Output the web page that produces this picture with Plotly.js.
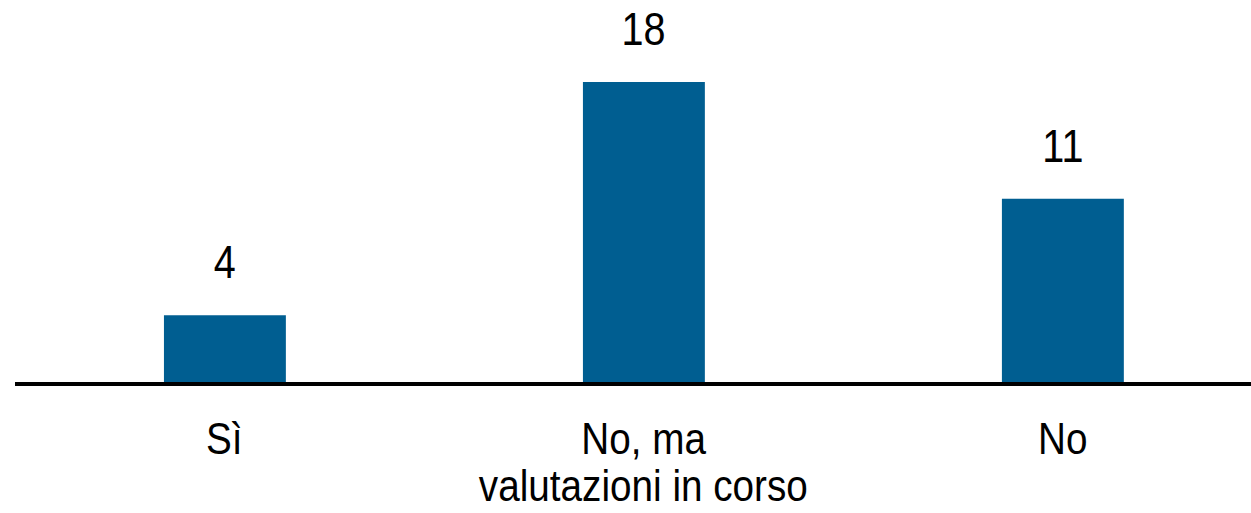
<!DOCTYPE html>
<html>
<head>
<meta charset="utf-8">
<script src="https://cdn.plot.ly/plotly-3.0.1.min.js"></script>
<style>
html,body{margin:0;padding:0;background:#fff;}
#chart{width:1251px;height:513px;}
#chart .annotation-text{transform-box:fill-box;transform-origin:center;transform:scaleX(0.86);}
</style>
</head>
<body>
<div id="chart"></div>
<script>
const categories = ["Sì", "No, ma valutazioni in corso", "No"];
const labelLines = [["Sì"], ["No, ma", "valutazioni in corso"], ["No"]];
const values = [4, 18, 11];

const FONT = '"Liberation Sans", Arial, sans-serif';
const xIdx = categories.map((c, i) => i);

const annotations = [];
values.forEach((v, i) => {
  annotations.push({
    x: i, y: v, xref: 'x', yref: 'y', text: String(v), showarrow: false,
    yanchor: 'bottom', yshift: 25, font: {family: FONT, size: 46, color: '#000'}
  });
});
labelLines.forEach((lines, i) => {
  lines.forEach((ln, j) => {
    annotations.push({
      x: i, y: 0, xref: 'x', yref: 'y', text: ln, showarrow: false,
      yanchor: 'top', yshift: -29 - j * 47, font: {family: FONT, size: 45, color: '#000'}
    });
  });
});

const trace = {
  type: 'bar', x: xIdx, y: values, width: 0.291,
  marker: {color: '#005E91', line: {width: 0}},
  hoverinfo: 'none'
};

const layout = {
  width: 1251, height: 513,
  margin: {l: 15, r: 0, t: 0, b: 131},
  paper_bgcolor: '#fff', plot_bgcolor: '#fff',
  showlegend: false,
  xaxis: {range: [-0.501, 2.449], showticklabels: false, ticks: '', showgrid: false,
          zeroline: false, showline: true, linecolor: '#000', linewidth: 4, fixedrange: true},
  yaxis: {range: [0, 22.92], visible: false, showgrid: false, zeroline: false, fixedrange: true},
  annotations: annotations
};

Plotly.newPlot('chart', [trace], layout, {displayModeBar: false, staticPlot: true});
</script>
</body>
</html>
